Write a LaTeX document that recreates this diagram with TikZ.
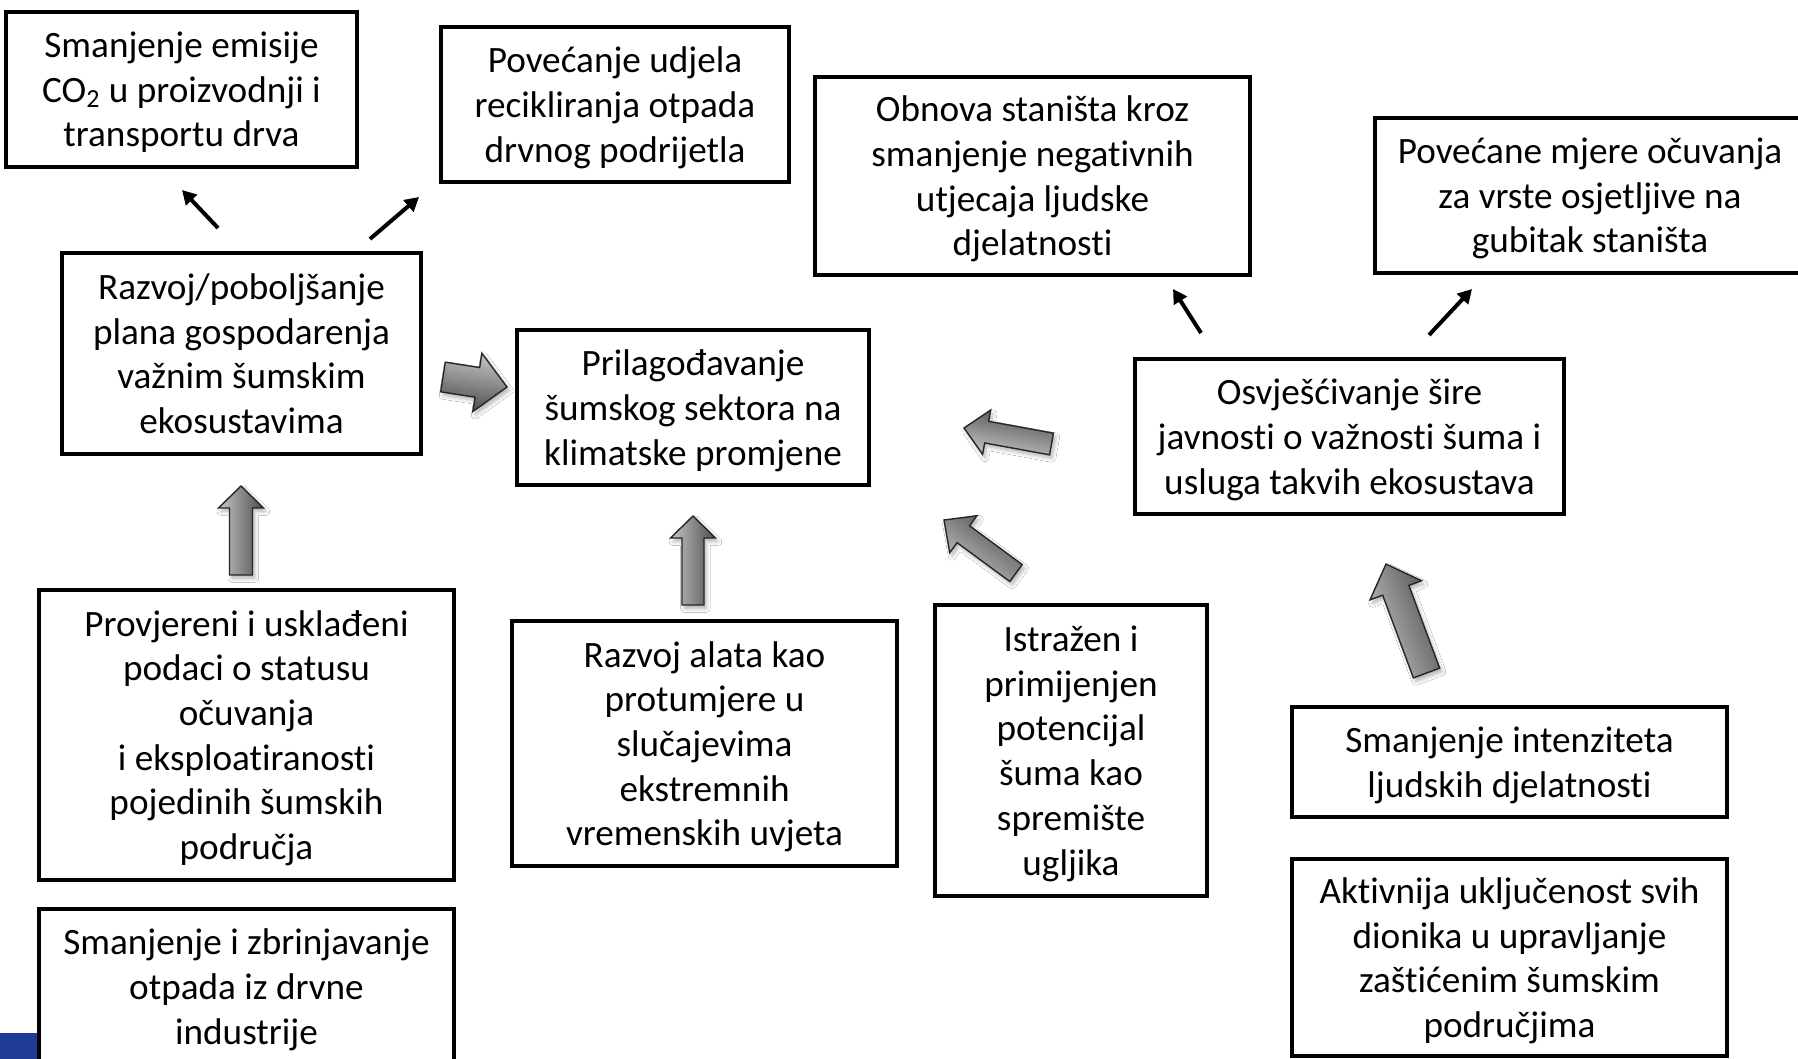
\documentclass[tikz,border=0pt]{standalone}
\usepackage{fontspec}
\setmainfont{Carlito}[Ligatures=NoCommon]
\usetikzlibrary{calc,arrows.meta,shadows.blur}
\definecolor{bandblue}{RGB}{30,60,150}
\tikzset{
  box/.style={draw=black, line width=2.4pt, fill=white, inner sep=0pt, align=center,
    font=\fontsize{18.6}{22.35}\selectfont, text=black, text depth=0pt},
  thinarrow/.style={line width=2pt, -{Triangle[length=7pt,width=7.5pt]}},
  blockstyle/.style={draw=black!85, line width=0.7pt, line join=miter,
    top color=gray!45, bottom color=black!70,
    blur shadow={shadow xshift=1.2pt, shadow yshift=-1.8pt, shadow opacity=30, shadow blur steps=6}}
}
% #1 tail coordinate, #2 tip coordinate, #3 shaft width (px), #4 head width (px), #5 head length (px)
\newcommand\barrowdraw[5]{%
  \path let \p1=($(#2)-(#1)$) in \pgfextra{%
    \pgfmathsetmacro\baang{atan2(\y1,\x1)}%
    \pgfmathsetmacro\balen{veclen(\x1,\y1)}%
    \global\let\baang\baang \global\let\balen\balen};
  \shade[blockstyle, shading angle=\baang, shift={(#1)}, rotate=\baang]
    (0pt,{-#3/4*1pt}) -- ({(\balen-#5/2)*1pt},{-#3/4*1pt}) -- ({(\balen-#5/2)*1pt},{-#4/4*1pt})
    -- ({\balen*1pt},0pt) -- ({(\balen-#5/2)*1pt},{#4/4*1pt}) -- ({(\balen-#5/2)*1pt},{#3/4*1pt})
    -- (0pt,{#3/4*1pt}) -- cycle;
}
\begin{document}
\begin{tikzpicture}[x=0.5pt,y=-0.5pt]
\clip (0,0) rectangle (1798,1059);
\fill[white] (0,0) rectangle (1798,1059);
\fill[bandblue] (0,1033) rectangle (37,1059);

\node[box, minimum width=175.5pt, minimum height=77.5pt] (A) at (181.5,89.5)
  {Smanjenje emisije\\CO\textsubscript{2} u proizvodnji i\\transportu drva};
\node[box, minimum width=174pt, minimum height=77.5pt] (B) at (615,104.5)
  {Povećanje udjela\\recikliranja otpada\\drvnog podrijetla};
\node[box, minimum width=217.5pt, minimum height=99pt] (C) at (1032.5,176)
  {Obnova staništa kroz\\smanjenje negativnih\\utjecaja ljudske\\djelatnosti};
\node[box, minimum width=215pt, minimum height=77.5pt] (D) at (1590,195.5)
  {Povećane mjere očuvanja\\za vrste osjetljive na\\gubitak staništa};
\node[box, minimum width=179.5pt, minimum height=100.5pt] (E) at (241.5,353.5)
  {Razvoj/poboljšanje\\plana gospodarenja\\važnim šumskim\\ekosustavima};
\node[box, minimum width=176pt, minimum height=77.5pt] (F) at (693,407.5)
  {Prilagođavanje\\šumskog sektora na\\klimatske promjene};
\node[box, minimum width=214.5pt, minimum height=77.5pt] (G) at (1349.5,436.5)
  {Osvješćivanje šire\\javnosti o važnosti šuma i\\usluga takvih ekosustava};
\node[box, minimum width=207.5pt, minimum height=145pt] (H) at (246.5,735)
  {Provjereni i usklađeni\\podaci o statusu\\očuvanja\\i eksploatiranosti\\pojedinih šumskih\\područja};
\node[box, minimum width=207.5pt, minimum height=77.5pt] (I) at (246.5,986.5)
  {Smanjenje i zbrinjavanje\\otpada iz drvne\\industrije};
\node[box, minimum width=192.5pt, minimum height=122.5pt] (J) at (704.5,743.5)
  {Razvoj alata kao\\protumjere u\\slučajevima\\ekstremnih\\vremenskih uvjeta};
\node[box, minimum width=136pt, minimum height=145.5pt] (K) at (1071,750.5)
  {Istražen i\\primijenjen\\potencijal\\šuma kao\\spremište\\ugljika};
\node[box, minimum width=217.5pt, minimum height=55pt] (L) at (1509.5,762)
  {Smanjenje intenziteta\\ljudskih djelatnosti};
\node[box, minimum width=217.5pt, minimum height=98.5pt] (M) at (1509.5,957.5)
  {Aktivnija uključenost svih\\dionika u upravljanje\\zaštićenim šumskim\\područjima};

% thin arrows
\coordinate (EA1) at (218,228); \coordinate (EA2) at (182,190);
\coordinate (EB1) at (370,239); \coordinate (EB2) at (419,197);
\coordinate (GC1) at (1201,333); \coordinate (GC2) at (1173,289);
\coordinate (GD1) at (1429,335); \coordinate (GD2) at (1472,289);
\draw[thinarrow] (EA1) -- (EA2);
\draw[thinarrow] (EB1) -- (EB2);
\draw[thinarrow] (GC1) -- (GC2);
\draw[thinarrow] (GD1) -- (GD2);

% block arrows
\coordinate (EF1) at (443,377);    \coordinate (EF2) at (507,387);
\coordinate (HE1) at (241,575);    \coordinate (HE2) at (241,486);
\coordinate (JF1) at (693,605);    \coordinate (JF2) at (693,516);
\coordinate (KF1) at (1016,573);   \coordinate (KF2) at (944,520);
\coordinate (GF1) at (1051.5,444); \coordinate (GF2) at (964,428);
\coordinate (LG1) at (1426.5,673); \coordinate (LG2) at (1386,564);
\barrowdraw{EF1}{EF2}{30}{59}{30}
\barrowdraw{HE1}{HE2}{23}{45}{22}
\barrowdraw{JF1}{JF2}{22}{45}{22}
\barrowdraw{KF1}{KF2}{21}{46}{24}
\barrowdraw{GF1}{GF2}{22}{45}{23}
\barrowdraw{LG1}{LG2}{28}{55}{28}
\end{tikzpicture}
\end{document}
